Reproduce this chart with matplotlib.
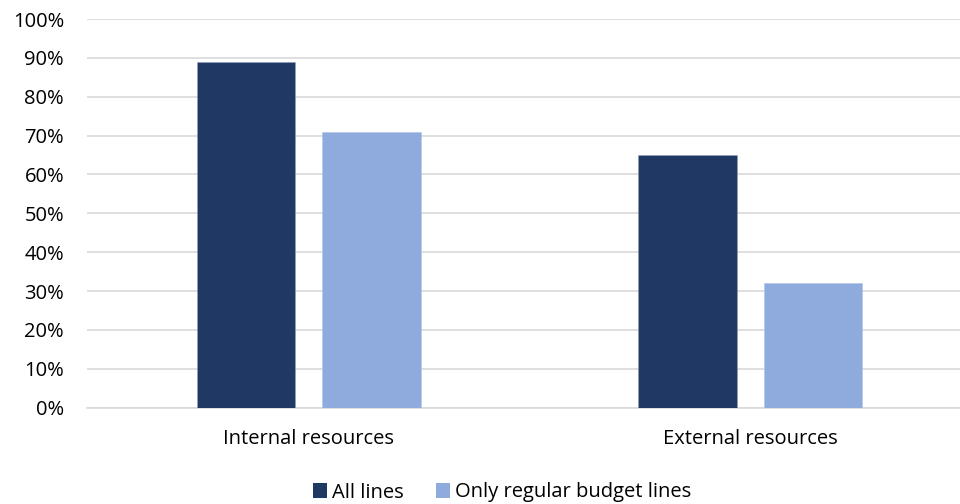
import matplotlib
matplotlib.use("Agg")
import matplotlib.pyplot as plt
import numpy as np
from matplotlib.patches import Patch

categories = ["Internal resources", "External resources"]
series_names = ["All lines", "Only regular budget lines"]
all_lines = [89, 65]
regular_lines = [71, 32]
yticks = [0, 10, 20, 30, 40, 50, 60, 70, 80, 90, 100]
ytick_labels = [f"{v}%" for v in yticks]

colors = ["#203864", "#8FAADC"]

plt.rcParams['font.family'] = ['Open Sans', 'DejaVu Sans']

fig = plt.figure(figsize=(9.6, 5.04), dpi=100)
ax = fig.add_axes([87/960, (504-407.7)/504, (960-87)/960, (407.7-19)/504])

x = np.arange(len(categories))
w = 0.223
off = 0.1418
ax.bar(x - off, all_lines, w, color=colors[0], edgecolor="#8fa0c0", linewidth=0.4, zorder=3)
ax.bar(x + off, regular_lines, w, color=colors[1], edgecolor="#b0c4e8", linewidth=0.4, zorder=3)

ax.set_xlim(-0.502, 1.475)
ax.set_ylim(0, 100)
ax.set_yticks(yticks)
ax.set_yticklabels(ytick_labels)
ax.set_xticks(x)
ax.set_xticklabels(categories)
ax.yaxis.grid(True, color="#D9D9D9", linewidth=1.2, zorder=0)
ax.set_axisbelow(True)
for s in ["top", "right", "left"]:
    ax.spines[s].set_visible(False)
ax.spines["bottom"].set_color("#D9D9D9")
ax.spines["bottom"].set_linewidth(1.2)
ax.tick_params(axis="both", length=0, labelsize=14.5, colors="#000000")
ax.tick_params(axis="y", pad=16.5)
ax.tick_params(axis="x", pad=15)

handles = [Patch(facecolor=colors[0]), Patch(facecolor=colors[1])]
fig.legend(handles, series_names, loc="center", bbox_to_anchor=(502/960, 1 - 492.5/504),
           ncol=2, frameon=False, fontsize=14.5, handlelength=0.7, handleheight=0.7,
           handletextpad=0.25, columnspacing=1.6)

fig.savefig("out.png", dpi=100)
